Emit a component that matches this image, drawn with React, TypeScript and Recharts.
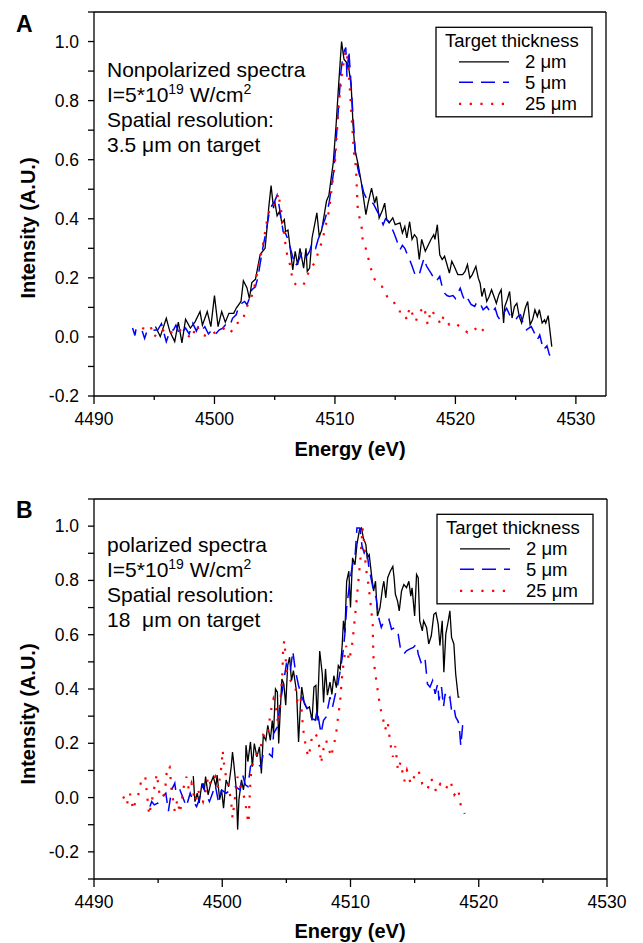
import React from 'react';
import { LineChart, Line, XAxis, YAxis } from 'recharts';

// [energy (eV), intensity (A.U.)]
// Panel A - nonpolarized spectra
const specA_2um: [number, number][] = [
  [4495.1, 0.035], [4495.5, 0.001], [4496.0, 0.063], [4496.3, 0.018], [4496.7, -0.016], [4497.0, 0.05],
  [4497.3, -0.02], [4497.6, 0.06], [4498.0, 0.03], [4498.4, 0.052], [4498.8, 0.086], [4499.0, 0.04],
  [4499.4, 0.086], [4499.7, 0.035], [4500.0, 0.14], [4500.3, 0.035], [4500.6, 0.086], [4500.9, 0.05],
  [4501.2, 0.08], [4501.6, 0.08], [4501.8, 0.097], [4502.2, 0.12], [4502.4, 0.19], [4502.7, 0.166],
  [4502.9, 0.13], [4503.1, 0.184], [4503.4, 0.195], [4503.8, 0.28], [4504.0, 0.29], [4504.2, 0.3],
  [4504.4, 0.385], [4504.5, 0.436], [4504.7, 0.512], [4504.9, 0.436], [4505.0, 0.46], [4505.2, 0.41],
  [4505.4, 0.425], [4505.6, 0.385], [4505.8, 0.397], [4505.9, 0.357], [4506.1, 0.362], [4506.3, 0.295],
  [4506.5, 0.227], [4506.7, 0.29], [4506.9, 0.244], [4507.1, 0.3], [4507.4, 0.233], [4507.6, 0.3],
  [4507.7, 0.222], [4507.9, 0.233], [4508.1, 0.335], [4508.5, 0.42], [4508.7, 0.34], [4508.9, 0.362],
  [4509.3, 0.46], [4509.5, 0.48], [4509.86, 0.59], [4510.1, 0.72], [4510.3, 0.85], [4510.55, 1.0],
  [4510.75, 0.94], [4510.95, 0.93], [4511.13, 0.916], [4511.35, 0.85], [4511.5, 0.72], [4511.66, 0.634],
  [4511.93, 0.583], [4512.2, 0.52], [4512.57, 0.414], [4512.75, 0.453], [4513.04, 0.504], [4513.3, 0.453],
  [4513.45, 0.476], [4513.67, 0.403], [4513.95, 0.43], [4514.13, 0.453], [4514.3, 0.397], [4514.5, 0.386],
  [4514.8, 0.403], [4515.0, 0.38], [4515.4, 0.386], [4515.6, 0.352], [4515.8, 0.374], [4515.97, 0.335],
  [4516.2, 0.39], [4516.4, 0.33], [4516.6, 0.346], [4516.8, 0.335], [4517.0, 0.262], [4517.2, 0.33],
  [4517.5, 0.29], [4517.7, 0.307], [4517.97, 0.33], [4518.2, 0.346], [4518.3, 0.33], [4518.5, 0.38],
  [4518.7, 0.278], [4518.9, 0.262], [4519.1, 0.273], [4519.3, 0.245], [4519.5, 0.216], [4519.7, 0.256],
  [4519.9, 0.239], [4520.2, 0.211], [4520.6, 0.211], [4520.8, 0.222], [4521.0, 0.245], [4521.2, 0.199],
  [4521.4, 0.211], [4521.7, 0.239], [4521.9, 0.199], [4522.05, 0.182], [4522.2, 0.137], [4522.4, 0.165],
  [4522.6, 0.12], [4522.8, 0.137], [4523.0, 0.16], [4523.2, 0.137], [4523.4, 0.114], [4523.6, 0.143],
  [4523.8, 0.16], [4524.0, 0.047], [4524.1, 0.103], [4524.3, 0.126], [4524.5, 0.154], [4524.7, 0.064],
  [4524.9, 0.103], [4525.1, 0.114], [4525.3, 0.069], [4525.5, 0.047], [4525.8, 0.098], [4526.0, 0.12],
  [4526.2, 0.041], [4526.4, 0.058], [4526.6, 0.092], [4526.8, 0.069], [4526.97, 0.092], [4527.2, 0.047],
  [4527.4, 0.058], [4527.5, 0.047], [4527.7, 0.072], [4528.0, -0.033],
];

const specA_5um: [number, number][] = [
  [4493.2, 0.03], [4493.4, 0.005], [4493.5, 0.03], [4494.0, 0.02], [4494.2, -0.005], [4494.4, 0.02],
  [4495.3, 0.024], [4495.6, 0.045], [4496.0, -0.016], [4496.3, 0.02], [4496.6, 0.024], [4496.8, 0.04],
  [4497.1, 0.007], [4497.4, 0.02], [4497.6, 0.03], [4497.9, 0.01], [4498.2, 0.046], [4498.5, 0.02],
  [4498.7, 0.04], [4499.0, 0.025], [4499.2, 0.035], [4499.5, 0.01], [4499.8, 0.024], [4500.1, 0.01],
  [4500.4, 0.024], [4500.7, 0.03], [4501.0, 0.046], [4501.3, 0.04], [4501.5, 0.063], [4501.8, 0.075],
  [4502.0, 0.1], [4502.3, 0.115], [4502.5, 0.12], [4502.7, 0.109], [4502.9, 0.13], [4503.1, 0.16],
  [4503.4, 0.17], [4503.6, 0.2], [4503.8, 0.25], [4504.05, 0.31], [4504.3, 0.36], [4504.5, 0.41],
  [4504.7, 0.44], [4505.0, 0.46], [4505.2, 0.48], [4505.4, 0.436], [4505.7, 0.357], [4505.9, 0.35],
  [4506.1, 0.33], [4506.3, 0.3], [4506.5, 0.27], [4506.7, 0.24], [4506.9, 0.25], [4507.1, 0.27],
  [4507.3, 0.29], [4507.6, 0.27], [4507.9, 0.29], [4508.1, 0.318], [4508.4, 0.3], [4508.6, 0.33],
  [4508.8, 0.35], [4509.0, 0.38], [4509.2, 0.402], [4509.5, 0.45], [4509.9, 0.56], [4510.2, 0.72],
  [4510.5, 0.9], [4510.7, 0.96], [4510.9, 0.98], [4511.0, 0.88], [4511.15, 0.97], [4511.3, 0.88],
  [4511.5, 0.75], [4511.7, 0.62], [4511.9, 0.57], [4512.2, 0.52], [4512.4, 0.487], [4512.6, 0.47],
  [4512.9, 0.464], [4513.2, 0.45], [4513.45, 0.43], [4513.7, 0.41], [4514.0, 0.38], [4514.2, 0.4],
  [4514.5, 0.39], [4514.7, 0.37], [4514.9, 0.352], [4515.1, 0.33], [4515.4, 0.295], [4515.6, 0.31],
  [4515.8, 0.3], [4516.0, 0.28], [4516.2, 0.262], [4516.4, 0.24], [4516.7, 0.205], [4517.0, 0.211],
  [4517.2, 0.24], [4517.4, 0.267], [4517.6, 0.24], [4517.97, 0.216], [4518.2, 0.2], [4518.4, 0.188],
  [4518.7, 0.205], [4518.9, 0.17], [4519.1, 0.148], [4519.3, 0.14], [4519.5, 0.137], [4519.8, 0.14],
  [4520.0, 0.13], [4520.2, 0.148], [4520.4, 0.165], [4520.6, 0.14], [4520.8, 0.12], [4521.0, 0.131],
  [4521.3, 0.11], [4521.6, 0.103], [4521.8, 0.12], [4522.05, 0.114], [4522.3, 0.092], [4522.6, 0.103],
  [4522.8, 0.09], [4523.0, 0.08], [4523.3, 0.097], [4523.5, 0.07], [4523.7, 0.058], [4524.0, 0.08],
  [4524.25, 0.097], [4524.5, 0.075], [4524.7, 0.064], [4525.0, 0.058], [4525.2, 0.07], [4525.4, 0.075],
  [4525.6, 0.05], [4525.9, 0.024], [4526.1, 0.03], [4526.3, 0.035], [4526.6, 0.01], [4526.8, -0.01],
  [4527.0, 0.007], [4527.3, -0.044], [4527.6, -0.03], [4527.8, -0.06], [4528.0, -0.07],
];

const specA_25um: [number, number][] = [
  [4494.0, 0.03], [4494.4, 0.024], [4494.7, 0.035], [4495.0, 0.0], [4495.4, 0.02], [4495.7, 0.024],
  [4496.0, 0.01], [4496.3, 0.018], [4496.7, 0.01], [4497.1, 0.024], [4497.5, 0.015], [4497.8, 0.005],
  [4498.1, -0.006], [4498.5, 0.04], [4498.9, 0.01], [4499.4, 0.001], [4499.9, 0.012], [4500.3, 0.02],
  [4500.7, 0.03], [4501.0, 0.02], [4501.3, 0.012], [4501.8, 0.046], [4502.3, 0.052], [4502.7, 0.103],
  [4503.2, 0.148], [4503.6, 0.227], [4504.0, 0.307], [4504.4, 0.403], [4504.7, 0.448], [4505.1, 0.448],
  [4505.3, 0.487], [4505.6, 0.41], [4505.8, 0.34], [4506.0, 0.284], [4506.3, 0.24], [4506.5, 0.188],
  [4506.9, 0.171], [4507.4, 0.177], [4507.9, 0.227], [4508.3, 0.25], [4508.7, 0.295], [4509.0, 0.335],
  [4509.5, 0.425], [4509.8, 0.527], [4510.0, 0.59], [4510.3, 0.78], [4510.6, 0.9], [4510.9, 0.97],
  [4511.1, 0.93], [4511.3, 0.8], [4511.58, 0.623], [4511.75, 0.572], [4511.8, 0.52], [4511.9, 0.425],
  [4512.2, 0.38], [4512.3, 0.33], [4512.6, 0.295], [4512.9, 0.245], [4513.2, 0.2], [4513.6, 0.18],
  [4513.9, 0.171], [4514.4, 0.131], [4514.8, 0.125], [4515.3, 0.086], [4515.7, 0.086], [4515.97, 0.058],
  [4516.2, 0.1], [4516.7, 0.052], [4516.96, 0.08], [4517.4, 0.103], [4517.7, 0.041], [4517.97, 0.092],
  [4518.5, 0.064], [4518.8, 0.041], [4519.0, 0.069], [4519.5, 0.041], [4520.0, 0.047], [4520.5, 0.03],
  [4521.0, 0.015], [4521.6, 0.03], [4522.0, 0.012], [4522.7, 0.041],
];

// Panel B - polarized spectra
const specB_2um: [number, number][] = [
  [4497.74, 0.079], [4497.87, -0.015], [4498.05, 0.016], [4498.2, -0.02], [4498.4, 0.047], [4498.6, 0.028],
  [4498.7, 0.077], [4498.9, 0.01], [4499.1, 0.053], [4499.3, 0.077], [4499.5, 0.04], [4499.6, 0.083],
  [4499.8, -0.008], [4499.95, 0.028], [4500.1, -0.039], [4500.3, 0.065], [4500.5, 0.04], [4500.7, 0.114],
  [4500.8, 0.168], [4500.9, 0.126], [4501.1, 0.028], [4501.2, -0.118], [4501.3, -0.008], [4501.5, 0.065],
  [4501.65, 0.028], [4501.8, 0.077], [4501.85, 0.193], [4502.0, 0.132], [4502.2, 0.205], [4502.35, 0.114],
  [4502.5, 0.199], [4502.7, 0.15], [4502.9, 0.187], [4503.05, 0.089], [4503.2, 0.23], [4503.4, 0.211],
  [4503.55, 0.266], [4503.75, 0.211], [4503.9, 0.284], [4504.0, 0.236], [4504.15, 0.4], [4504.3, 0.388],
  [4504.4, 0.199], [4504.5, 0.297], [4504.65, 0.437], [4504.8, 0.419], [4504.95, 0.34], [4505.1, 0.486],
  [4505.25, 0.517], [4505.4, 0.431], [4505.55, 0.468], [4505.8, 0.388], [4505.95, 0.205], [4506.1, 0.346],
  [4506.2, 0.407], [4506.4, 0.346], [4506.6, 0.328], [4506.8, 0.334], [4507.0, 0.284], [4507.15, 0.407],
  [4507.3, 0.413], [4507.4, 0.284], [4507.6, 0.54], [4507.8, 0.455], [4507.9, 0.35], [4508.05, 0.474],
  [4508.2, 0.377], [4508.4, 0.425], [4508.55, 0.38], [4508.7, 0.449], [4508.9, 0.405], [4509.05, 0.486],
  [4509.2, 0.474], [4509.35, 0.56], [4509.45, 0.651], [4509.56, 0.608], [4509.7, 0.797], [4509.87, 0.834],
  [4510.0, 0.7], [4510.16, 0.883], [4510.35, 0.858], [4510.5, 0.932], [4510.7, 0.986], [4510.86, 0.993],
  [4511.0, 0.956], [4511.2, 0.932], [4511.3, 0.883], [4511.46, 0.895], [4511.65, 0.816], [4511.8, 0.761],
  [4511.95, 0.797], [4512.1, 0.669], [4512.3, 0.7], [4512.5, 0.773], [4512.6, 0.797], [4512.75, 0.736],
  [4512.9, 0.81], [4513.1, 0.834], [4513.3, 0.852], [4513.4, 0.81], [4513.5, 0.749], [4513.67, 0.724],
  [4513.8, 0.688], [4513.98, 0.761], [4514.16, 0.785], [4514.37, 0.773], [4514.55, 0.797], [4514.7, 0.742],
  [4514.8, 0.773], [4515.0, 0.669], [4515.15, 0.822], [4515.28, 0.81], [4515.4, 0.651], [4515.6, 0.614],
  [4515.7, 0.651], [4515.93, 0.627], [4516.1, 0.566], [4516.3, 0.596], [4516.5, 0.675], [4516.66, 0.681],
  [4516.84, 0.638], [4516.97, 0.56], [4517.15, 0.651], [4517.28, 0.462], [4517.43, 0.602], [4517.6, 0.645],
  [4517.75, 0.688], [4517.88, 0.59], [4518.06, 0.566], [4518.2, 0.456], [4518.4, 0.37], [4518.5, 0.37],
];

const specB_5um: [number, number][] = [
  [4494.36, -0.033], [4494.5, -0.015], [4494.7, -0.027], [4495.0, -0.02], [4495.35, 0.004], [4495.6, 0.016],
  [4495.8, -0.05], [4496.05, 0.028], [4496.3, 0.053], [4496.4, 0.016], [4496.7, 0.028], [4497.0, -0.008],
  [4497.2, -0.033], [4497.5, 0.016], [4497.74, -0.015], [4498.0, -0.033], [4498.2, -0.008], [4498.5, 0.053],
  [4498.65, 0.022], [4499.0, -0.015], [4499.2, 0.01], [4499.45, 0.047], [4499.7, -0.015], [4499.95, 0.028],
  [4500.3, 0.016], [4500.65, 0.028], [4501.0, 0.04], [4501.4, 0.028], [4501.6, 0.083], [4501.8, 0.047],
  [4502.0, 0.04], [4502.2, 0.114], [4502.4, 0.126], [4502.7, 0.126], [4503.0, 0.114], [4503.2, 0.162],
  [4503.5, 0.168], [4503.9, 0.15], [4504.0, 0.236], [4504.3, 0.26], [4504.5, 0.34], [4504.8, 0.431],
  [4505.0, 0.492], [4505.3, 0.462], [4505.5, 0.54], [4505.7, 0.468], [4505.95, 0.413], [4506.2, 0.37],
  [4506.5, 0.34], [4506.7, 0.322], [4507.0, 0.291], [4507.25, 0.285], [4507.4, 0.322], [4507.7, 0.236],
  [4507.9, 0.285], [4508.1, 0.297], [4508.4, 0.37], [4508.6, 0.334], [4508.8, 0.377], [4509.0, 0.413],
  [4509.2, 0.468], [4509.4, 0.529], [4509.56, 0.602], [4509.7, 0.7], [4509.95, 0.797], [4510.16, 0.858],
  [4510.35, 0.883], [4510.5, 0.993], [4510.73, 0.993], [4510.9, 0.926], [4511.07, 0.901], [4511.25, 0.92],
  [4511.44, 0.846], [4511.65, 0.797], [4511.8, 0.761], [4512.0, 0.736], [4512.2, 0.663], [4512.4, 0.627],
  [4512.6, 0.651], [4512.8, 0.651], [4513.0, 0.657], [4513.2, 0.62], [4513.46, 0.627], [4513.72, 0.602],
  [4513.9, 0.547], [4514.16, 0.529], [4514.37, 0.541], [4514.6, 0.547], [4514.9, 0.553], [4515.15, 0.566],
  [4515.28, 0.529], [4515.5, 0.498], [4515.8, 0.517], [4516.0, 0.419], [4516.2, 0.407], [4516.4, 0.431],
  [4516.6, 0.382], [4516.8, 0.419], [4516.9, 0.358], [4517.1, 0.407], [4517.25, 0.334], [4517.38, 0.382],
  [4517.55, 0.358], [4517.75, 0.37], [4517.88, 0.321], [4518.06, 0.334], [4518.2, 0.297], [4518.4, 0.28],
  [4518.5, 0.25], [4518.6, 0.19], [4518.75, 0.27],
];

const specB_25um: [number, number][] = [
  [4492.28, 0.004], [4492.55, -0.027], [4492.8, 0.016], [4493.06, -0.045], [4493.2, -0.02], [4493.45, 0.01],
  [4493.7, 0.065], [4494.0, 0.077], [4494.1, 0.028], [4494.3, -0.064], [4494.6, 0.01], [4494.9, 0.087],
  [4495.1, 0.016], [4495.4, -0.002], [4495.6, 0.053], [4495.7, 0.114], [4495.9, 0.114], [4496.05, 0.028],
  [4496.3, -0.051], [4496.5, -0.008], [4496.7, -0.057], [4497.0, 0.04], [4497.2, 0.077], [4497.4, 0.028],
  [4497.6, 0.053], [4497.87, -0.015], [4498.1, 0.028], [4498.5, -0.015], [4498.7, 0.022], [4498.9, 0.077],
  [4499.1, 0.047], [4499.45, 0.077], [4499.7, 0.034], [4499.95, 0.12], [4500.03, 0.174], [4500.2, 0.096],
  [4500.4, 0.065], [4500.55, 0.028], [4500.7, -0.02], [4500.8, -0.075], [4501.0, 0.004], [4501.1, 0.034],
  [4501.2, 0.077], [4501.45, 0.034], [4501.65, 0.01], [4501.8, -0.015], [4501.9, -0.057], [4502.05, -0.094],
  [4502.2, 0.065], [4502.3, 0.114], [4502.5, 0.138], [4502.7, 0.162], [4503.0, 0.187], [4503.2, 0.23],
  [4503.5, 0.223], [4503.8, 0.321], [4504.0, 0.364], [4504.15, 0.346], [4504.35, 0.272], [4504.55, 0.364],
  [4504.7, 0.468], [4504.75, 0.559], [4504.85, 0.578], [4505.0, 0.474], [4505.2, 0.437], [4505.45, 0.425],
  [4505.7, 0.407], [4505.85, 0.358], [4506.1, 0.377], [4506.3, 0.254], [4506.5, 0.193], [4506.7, 0.15],
  [4506.9, 0.187], [4507.0, 0.23], [4507.25, 0.236], [4507.4, 0.223], [4507.6, 0.181], [4507.7, 0.126],
  [4507.9, 0.181], [4508.1, 0.211], [4508.3, 0.181], [4508.5, 0.15], [4508.65, 0.187], [4508.85, 0.223],
  [4509.0, 0.284], [4509.2, 0.358], [4509.3, 0.425], [4509.45, 0.492], [4509.65, 0.559], [4509.9, 0.504],
  [4510.15, 0.571], [4510.4, 0.69], [4510.6, 0.791], [4510.78, 0.883], [4510.94, 0.993], [4511.05, 0.944],
  [4511.2, 0.846], [4511.4, 0.785], [4511.57, 0.712], [4511.73, 0.639], [4511.78, 0.523], [4511.9, 0.468],
  [4512.2, 0.37], [4512.3, 0.334], [4512.5, 0.3], [4512.7, 0.25], [4512.9, 0.28], [4513.1, 0.2],
  [4513.3, 0.15], [4513.5, 0.19], [4513.7, 0.1], [4513.9, 0.13], [4514.2, 0.06], [4514.4, 0.1],
  [4514.7, 0.05], [4515.0, 0.08], [4515.3, 0.1], [4515.6, 0.05], [4516.0, 0.03], [4516.3, 0.07],
  [4516.7, 0.02], [4517.0, 0.05], [4517.4, 0.03], [4517.8, 0.06], [4518.1, 0.01], [4518.4, 0.03],
  [4518.6, -0.03], [4518.9, -0.06],
];

const energyTicks = [4490, 4495, 4500, 4505, 4510, 4515, 4520, 4525, 4530];
const intensityTicks = [-0.3, -0.2, -0.1, 0, 0.1, 0.2, 0.3, 0.4, 0.5, 0.6, 0.7, 0.8, 0.9, 1.0, 1.1];
const legendLabels = ['2 \u03bcm', '5 \u03bcm', '25 \u03bcm'];

const FONT = '"Liberation Sans", Arial, Helvetica, sans-serif';
const seriesStyle = [
  { stroke: '#000000', strokeWidth: 1.3, dash: undefined as string | undefined },
  { stroke: '#0000ff', strokeWidth: 1.5, dash: '14 8' },
  { stroke: '#ff0000', strokeWidth: 2.2, dash: '2.2 8.5' },
];

const toPoints = (arr: [number, number][]) => arr.map(([e, v]) => ({ e, v }));

// bottom energy ticks: long + label every 10 eV, short every 5 eV
const EnergyTick = (props: any) => {
  const { x, y, payload } = props;
  const v = payload.value;
  const major = Math.round(v) % 10 === 0;
  return (
    <g>
      <line x1={x} y1={y} x2={x} y2={y + (major ? 8 : 4)} stroke="#000" strokeWidth={1.3} />
      {major && (
        <text x={x} y={y + 29} textAnchor="middle" fontSize={17.5} fontFamily={FONT} fill="#000">
          {v}
        </text>
      )}
    </g>
  );
};

const IntensityTick = (props: any) => {
  const { x, y, payload } = props;
  const v = payload.value;
  const major = Math.round(v * 10) % 2 === 0;
  return (
    <g>
      <line x1={x} y1={y} x2={x - 6} y2={y} stroke="#000" strokeWidth={1.3} />
      {major && (
        <text x={x - 15} y={y + 6} textAnchor="end" fontSize={17.5} fontFamily={FONT} fill="#000">
          {v.toFixed(1)}
        </text>
      )}
    </g>
  );
};

interface PanelProps {
  top: number;
  height: number;
  bottomAxis: number;
  rightAxis: number;
  xMax: number;
  yMin: number;
  series: [number, number][][];
}

function Panel({ top, height, bottomAxis, rightAxis, xMax, yMin, series }: PanelProps) {
  const yTicks = intensityTicks.filter((t) => t >= yMin - 1e-9);
  const frame = { stroke: '#000', strokeWidth: 1.3 };
  return (
    <div style={{ position: 'absolute', left: 0, top }}>
      <LineChart width={643} height={height} margin={{ top: 0, right: 0, bottom: 0, left: 0 }}>
        <XAxis
          dataKey="e"
          type="number"
          domain={[4490, xMax]}
          allowDataOverflow
          ticks={energyTicks}
          interval={0}
          height={bottomAxis}
          axisLine={frame}
          tickLine={false}
          tickSize={0}
          tickMargin={0}
          tick={<EnergyTick />}
        />
        <XAxis
          xAxisId="top"
          orientation="top"
          dataKey="e"
          type="number"
          domain={[4490, xMax]}
          allowDataOverflow
          ticks={energyTicks}
          interval={0}
          height={12}
          axisLine={frame}
          tickLine={frame}
          tickSize={-5}
          tick={false}
        />
        <YAxis
          type="number"
          domain={[yMin, 1.1]}
          allowDataOverflow
          ticks={yTicks}
          interval={0}
          width={94}
          axisLine={frame}
          tickLine={false}
          tickSize={0}
          tickMargin={0}
          tick={<IntensityTick />}
        />
        <YAxis
          yAxisId="right"
          orientation="right"
          type="number"
          domain={[yMin, 1.1]}
          allowDataOverflow
          ticks={yTicks}
          interval={0}
          width={rightAxis}
          axisLine={frame}
          tickLine={frame}
          tickSize={-5}
          tick={false}
        />
        {series.map((s, i) => (
          <Line
            key={i}
            data={toPoints(s)}
            dataKey="v"
            type="linear"
            stroke={seriesStyle[i].stroke}
            strokeWidth={seriesStyle[i].strokeWidth}
            strokeDasharray={seriesStyle[i].dash}
            dot={false}
            activeDot={false}
            isAnimationActive={false}
          />
        ))}
      </LineChart>
    </div>
  );
}

function LegendBox({ x, y }: { x: number; y: number }) {
  const rows = [34.5, 55, 76.5];
  return (
    <g fontFamily={FONT} fontSize={18.5} fill="#000">
      <rect x={x} y={y} width={156} height={89.5} fill="#fff" stroke="#000" strokeWidth={1.3} />
      <text x={x + 9} y={y + 19.5}>Target thickness</text>
      {legendLabels.map((lab, i) => (
        <g key={lab}>
          <line
            x1={x + 23}
            x2={x + 73}
            y1={y + rows[i]}
            y2={y + rows[i]}
            stroke={seriesStyle[i].stroke}
            strokeWidth={seriesStyle[i].strokeWidth}
            strokeDasharray={seriesStyle[i].dash}
          />
          <text x={x + 89} y={y + rows[i] + 6.6}>{lab}</text>
        </g>
      ))}
    </g>
  );
}

function Note({ x, y, lines }: { x: number; y: number; lines: string[] }) {
  return (
    <g fontFamily={FONT} fontSize={21} fill="#000">
      <text x={x} y={y}>{lines[0]}</text>
      <text x={x} y={y + 25}>
        I=5*10<tspan dy={-8} fontSize={14}>19</tspan>
        <tspan dy={8}> W/cm</tspan>
        <tspan dy={-8} fontSize={14}>2</tspan>
      </text>
      <text x={x} y={y + 49.5}>{lines[1]}</text>
      <text x={x} y={y + 74.5} xmlSpace="preserve">{lines[2]}</text>
    </g>
  );
}

export default function App() {
  return (
    <div style={{ position: 'absolute', left: 0, top: 0, width: 643, height: 943, background: '#fff' }}>
      <Panel top={0} height={470} bottomAxis={74} rightAxis={37} xMax={4532.5} yMin={-0.2}
        series={[specA_2um, specA_5um, specA_25um]} />
      <Panel top={487} height={456} bottomAxis={64} rightAxis={36} xMax={4530} yMin={-0.3}
        series={[specB_2um, specB_5um, specB_25um]} />
      <svg width={643} height={943} style={{ position: 'absolute', left: 0, top: 0, pointerEvents: 'none' }}>
        <text x={16} y={32} fontFamily={FONT} fontSize={23} fontWeight="bold">A</text>
        <text x={16} y={518} fontFamily={FONT} fontSize={23} fontWeight="bold">B</text>

        <text x={350} y={456} textAnchor="middle" fontFamily={FONT} fontSize={20} fontWeight="bold">Energy (eV)</text>
        <text x={350} y={938} textAnchor="middle" fontFamily={FONT} fontSize={20} fontWeight="bold">Energy (eV)</text>

        <text transform="translate(35,228) rotate(-90)" textAnchor="middle" fontFamily={FONT} fontSize={20} fontWeight="bold">
          Intensity (A.U.)
        </text>
        <text transform="translate(35,714) rotate(-90)" textAnchor="middle" fontFamily={FONT} fontSize={20} fontWeight="bold">
          Intensity (A.U.)
        </text>

        <Note x={107} y={77} lines={['Nonpolarized spectra', 'Spatial resolution:', '3.5 \u03bcm on target']} />
        <Note x={107} y={552} lines={['polarized spectra', 'Spatial resolution:', '18  \u03bcm on target']} />

        <LegendBox x={436} y={27.3} />
        <LegendBox x={437} y={514.3} />
      </svg>
    </div>
  );
}
